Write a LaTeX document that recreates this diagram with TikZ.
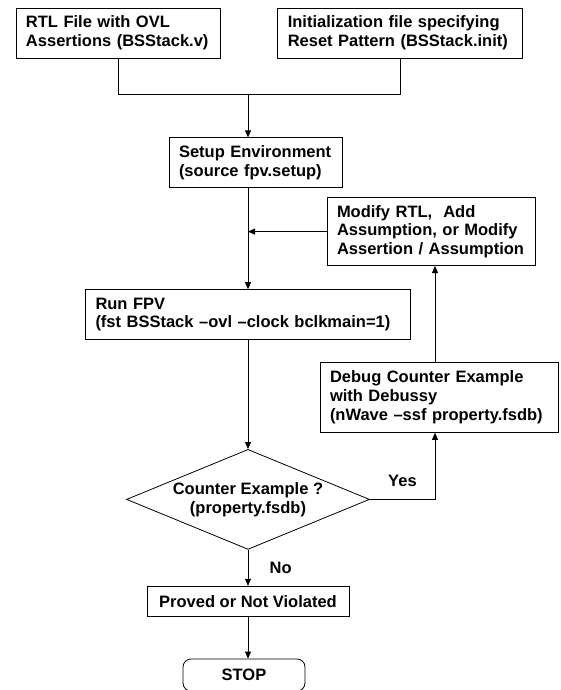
\documentclass[tikz,border=0pt]{standalone}
\usepackage{fontspec}
\setmainfont{Liberation Sans}
\usetikzlibrary{positioning, arrows.meta, shapes.geometric, calc}

\begin{document}
\begin{tikzpicture}[
        font=\bfseries\fontsize{16.5pt}{18.7pt}\selectfont,
        line width=0.8pt,
        box/.style={draw, rectangle, align=left, inner xsep=10pt, inner ysep=4pt, minimum height=50pt},
        decision/.style={draw, diamond, aspect=2.4, inner sep=1pt, minimum width=243pt, minimum height=100pt, align=center},
        terminal/.style={draw, rectangle, rounded corners=8pt, minimum width=122pt, minimum height=32pt, align=center},
        arrow/.style={-{Triangle[length=7pt, width=6pt]}}
    ]
    \useasboundingbox (-118pt,33pt) rectangle (442pt,-657pt);

    \node[box, text width=184pt] (RTL) {RTL File with OVL\\Assertions (BSStack.v)};
    \node[box, text width=225pt, right=57pt of RTL] (Init) {Initialization file specifying\\Reset Pattern (BSStack.init)};

    \node[box, text width=153pt, below=79pt of RTL, xshift=137.5pt] (Setup) {Setup Environment\\(source fpv.setup)};
    \node[box, text width=188pt, minimum height=68pt, below=9pt of Setup, xshift=175.5pt] (Modify) {Modify RTL,~ Add\\Assumption, or Modify\\Assertion / Assumption};

    \node[box, text width=305pt, below=101pt of Setup, xshift=-7.5pt] (RunFPV) {Run FPV\\(fst BSStack –ovl –clock bclkmain=1)};
    \node[box, text width=218pt, minimum height=70pt, below=96pt of Modify, xshift=8pt] (Debug) {Debug Counter Example\\with Debussy\\(nWave –ssf property.fsdb)};

    \node[decision, below=109pt of RunFPV] (Check) {Counter Example ?\\(property.fsdb)};
    \node[box, minimum width=202pt, minimum height=30pt, inner ysep=2pt, align=center, below=36pt of Check] (Proved) {Proved or Not Violated};
    \node[terminal, below=42pt of Proved, xshift=-4pt] (Stop) {STOP};

    \coordinate (Join) at ([yshift=-36pt]RTL.south -| RunFPV.north);
    \coordinate (Loop) at ([xshift=-4pt]Debug.south);

    \draw (RTL.south) |- (Join);
    \draw (Init.south) |- (Join);
    \draw[arrow] (Join) -- (Join |- Setup.north);
    \draw[arrow] (Setup.south -| RunFPV.north) -- (RunFPV.north);
    \draw[arrow] (Modify.west) -- (Modify.west -| RunFPV.north);
    \draw[arrow] (RunFPV) -- (Check);
    \draw[arrow] (Check.east) -| node[pos=0.25, above, yshift=9pt] {Yes} (Loop);
    \draw[arrow] (Loop |- Debug.north) -- (Loop |- Modify.south);
    \draw[arrow] (Check) -- node[midway, right, xshift=18pt] {No} (Proved);
    \draw[arrow] (Proved.south) -- (Proved.south |- Stop.north);

\end{tikzpicture}
\end{document}
